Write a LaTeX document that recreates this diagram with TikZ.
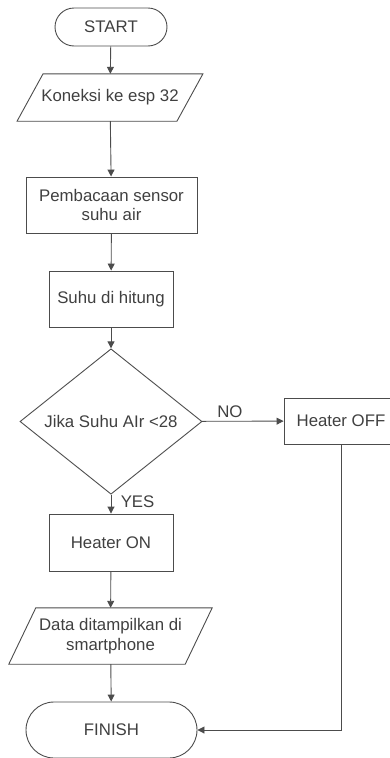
\documentclass[tikz,border=0pt]{standalone}
\usepackage{fontspec}
\setmainfont{Liberation Sans}
\usetikzlibrary{arrows.meta,shapes.geometric,positioning}

\begin{document}
\begin{tikzpicture}[x=1pt, y=-1pt, auto,
    every node/.style ={font=\fontsize{16.8}{19.5}\selectfont, text=black!75},
    terminal/.style ={rectangle, draw=black!70, line width=0.9pt, align=center},
    process/.style ={rectangle, draw=black!70, line width=0.9pt, align=center, minimum height=56pt},
    io/.style ={rectangle, align=center, inner sep=0pt},
    slanted/.style ={draw=black!70, line width=0.9pt},
    decision/.style ={diamond, draw=black!70, line width=0.9pt, inner sep=0pt, minimum width=182pt, minimum height=111pt},
    flow/.style ={draw=black!70, line width=0.9pt, -{Triangle[length=7pt, width=7pt]}}]
   \useasboundingbox (0,0) rectangle (390,758);

   \node[terminal, minimum width=112pt, minimum height=38pt, rounded corners=19pt] (start) at (111,27) {START};
   \node[io, minimum width=159.5pt, minimum height=47pt] (connect) at (110,97.5) {Koneksi ke esp 32};
   \node[process, minimum width=171pt] (read) at (111.5,205) {Pembacaan sensor\\suhu air};
   \node[process, minimum width=124pt] (count) at (111,299) {Suhu di hitung};
   \node[decision] (check) at (111,421.5) {Jika Suhu AIr <28};
   \node[process, minimum width=114pt, minimum height=46pt] (off) at (341,421) {Heater OFF};
   \node[process, minimum width=124pt, minimum height=57pt] (on) at (111,542.5) {Heater ON};
   \node[io, minimum width=176pt, minimum height=56pt] (show) at (110.5,636) {Data ditampilkan di\\smartphone};
   \node[terminal, minimum width=171pt, minimum height=56pt, rounded corners=28pt] (finish) at (111.5,730) {FINISH};
   \coordinate (corner) at (off.south |- finish.east);

   % parallelogram outlines
   \draw[slanted] ([xshift=13pt]connect.north west) -- ([xshift=13pt]connect.north east)
      -- ([xshift=-13pt]connect.south east) -- ([xshift=-13pt]connect.south west) -- cycle;
   \draw[slanted] ([xshift=13.5pt]show.north west) -- ([xshift=13.5pt]show.north east)
      -- ([xshift=-13.5pt]show.south east) -- ([xshift=-13.5pt]show.south west) -- cycle;

   \draw[flow] (start) to (connect);
   \draw[flow] (connect) to (read);
   \draw[flow] (read) to (count);
   \draw[flow] (count) to (check);
   \draw[flow] (check) to node[pos=0.34, above] {NO} (off);
   \draw[flow] (check) to node[pos=0.35, right=6pt] {YES} (on);
   \draw[flow] (on) to (show);
   \draw[flow] (show) to (finish);
   \draw[flow] (off) -- (corner) -- (finish);
\end{tikzpicture}
\end{document}
